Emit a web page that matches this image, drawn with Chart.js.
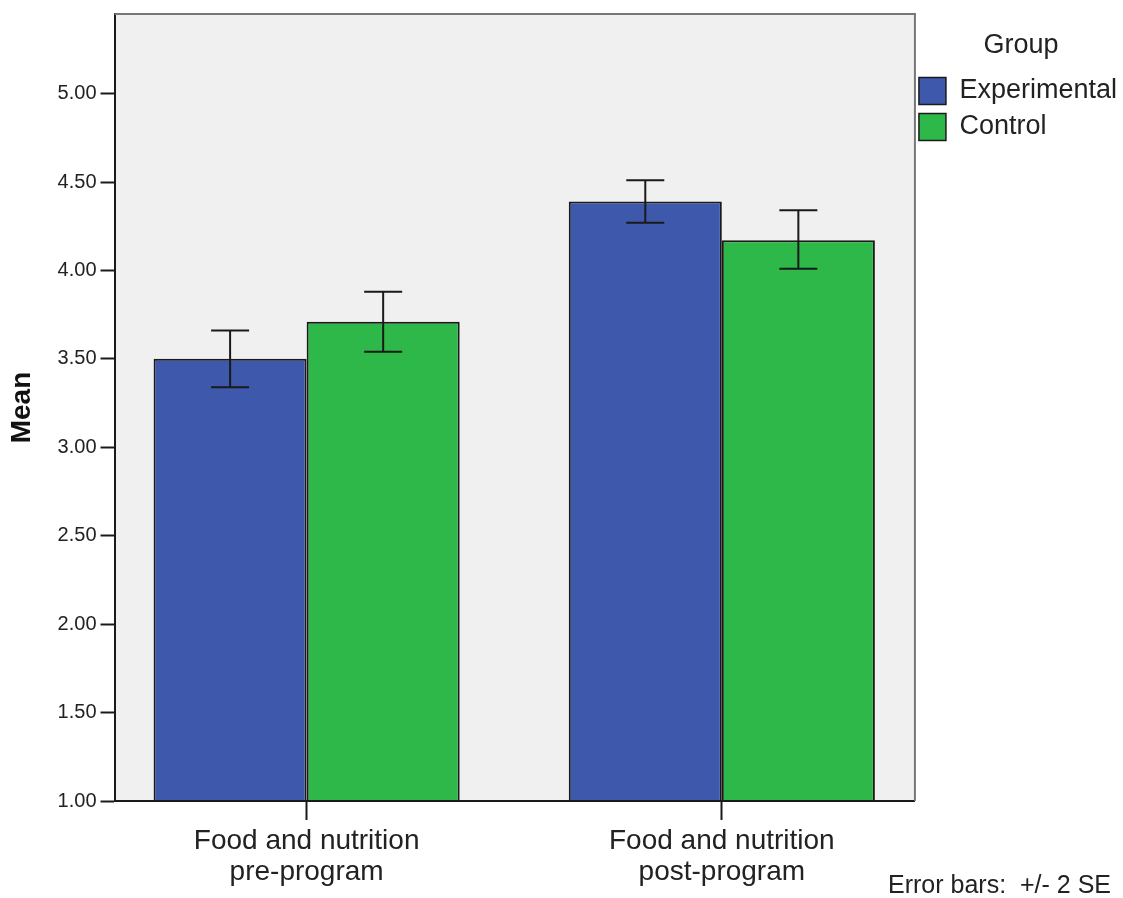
<!DOCTYPE html>
<html>
<head>
<meta charset="utf-8">
<title>Food and nutrition: mean by group</title>
<script src="https://cdn.jsdelivr.net/npm/chart.js@4/dist/chart.umd.min.js"></script>
<style>
  html, body { margin: 0; padding: 0; background: #ffffff; }
  #wrap { width: 1123px; height: 898px; }
</style>
</head>
<body>
<div id="wrap"><canvas id="chart" width="1123" height="898"></canvas></div>
<script>
// Categories (two-line tick labels) and group names
const categories = [
  ['Food and nutrition', 'pre-program'],
  ['Food and nutrition', 'post-program']
];
const groups = ['Experimental', 'Control'];

// Group means
const experimentalMeans = [3.50, 4.39];
const controlMeans = [3.71, 4.17];

// Error bar limits (+/- 2 SE)
const experimentalLow = [3.34, 4.27];
const experimentalHigh = [3.66, 4.51];
const controlLow = [3.54, 4.01];
const controlHigh = [3.88, 4.34];

// Y axis tick labels
const yTicks = [1.00, 1.50, 2.00, 2.50, 3.00, 3.50, 4.00, 4.50, 5.00];

const groupColors = ['#3E58AC', '#2EB84A'];
const FONT = "'Liberation Sans', Arial, sans-serif";
const TEXT = '#222222';

const toPoints = vals => vals.map((v, i) => ({ x: i, y: v }));

// Plot background, grey top/right frame and the footnote
const frame = {
  id: 'frame',
  beforeDraw(chart) {
    const { ctx, chartArea: a } = chart;
    ctx.save();
    ctx.fillStyle = '#F0F0F0';
    ctx.fillRect(a.left, a.top, a.right - a.left, a.bottom - a.top);
    ctx.restore();
  },
  afterDraw(chart) {
    const { ctx, chartArea: a } = chart;
    ctx.save();
    ctx.strokeStyle = '#777777';
    ctx.lineWidth = 2;
    ctx.beginPath();
    ctx.moveTo(a.left, a.top);
    ctx.lineTo(a.right, a.top);
    ctx.lineTo(a.right, a.bottom);
    ctx.stroke();
    ctx.fillStyle = TEXT;
    ctx.font = '25px ' + FONT;
    ctx.textAlign = 'right';
    ctx.textBaseline = 'middle';
    ctx.fillText('Error bars:  +/- 2 SE', chart.width - 12, chart.height - 12);
    ctx.restore();
  }
};

// Whiskers drawn from each bar's own position on the value scale
const errorBars = {
  id: 'errorBars',
  afterDatasetsDraw(chart) {
    const { ctx } = chart;
    const yScale = chart.scales.y;
    ctx.save();
    ctx.strokeStyle = '#1a1a1a';
    ctx.lineWidth = 2;
    chart.data.datasets.forEach((ds, di) => {
      const meta = chart.getDatasetMeta(di);
      meta.data.forEach((bar, i) => {
        const x = bar.x;
        const yLo = yScale.getPixelForValue(ds.errLow[i]);
        const yHi = yScale.getPixelForValue(ds.errHigh[i]);
        const cap = 19;
        ctx.beginPath();
        ctx.moveTo(x, yLo); ctx.lineTo(x, yHi);
        ctx.moveTo(x - cap, yHi); ctx.lineTo(x + cap, yHi);
        ctx.moveTo(x - cap, yLo); ctx.lineTo(x + cap, yLo);
        ctx.stroke();
      });
    });
    ctx.restore();
  }
};

new Chart(document.getElementById('chart'), {
  type: 'bar',
  data: {
    datasets: [
      {
        label: groups[0],
        data: toPoints(experimentalMeans),
        errLow: experimentalLow,
        errHigh: experimentalHigh,
        backgroundColor: groupColors[0],
        borderColor: '#1a1a1a',
        borderWidth: 2
      },
      {
        label: groups[1],
        data: toPoints(controlMeans),
        errLow: controlLow,
        errHigh: controlHigh,
        backgroundColor: groupColors[1],
        borderColor: '#1a1a1a',
        borderWidth: 2
      }
    ]
  },
  options: {
    responsive: false,
    animation: false,
    devicePixelRatio: 1,
    layout: { padding: { top: 14, bottom: 4, left: 0, right: -4 } },
    datasets: {
      bar: { categoryPercentage: 0.7373, barPercentage: 1.0, grouped: true }
    },
    scales: {
      x: {
        type: 'linear',
        offset: false,
        min: -0.4627,
        max: 1.4651,
        afterBuildTicks(scale) {
          scale.ticks = categories.map((_, i) => ({ value: i }));
        },
        ticks: {
          callback: (v) => categories[v],
          color: TEXT,
          font: { family: FONT, size: 28, lineHeight: '31px' },
          padding: 6,
          maxRotation: 0,
          autoSkip: false
        },
        grid: {
          offset: false,
          drawOnChartArea: false,
          drawTicks: true,
          tickLength: 19,
          tickColor: '#1a1a1a',
          tickWidth: 2
        },
        border: { display: true, color: '#1a1a1a', width: 2, z: 1 }
      },
      y: {
        min: 1,
        max: 5.45,
        afterBuildTicks(scale) {
          scale.ticks = yTicks.map(v => ({ value: v }));
        },
        ticks: {
          callback: (v) => Number(v).toFixed(2),
          color: TEXT,
          font: { family: FONT, size: 20, lineHeight: 1.0 },
          padding: 4
        },
        grid: {
          drawOnChartArea: false,
          drawTicks: true,
          tickLength: 14,
          tickColor: '#1a1a1a',
          tickWidth: 2
        },
        border: { display: true, color: '#1a1a1a', width: 2, z: 1 },
        title: {
          display: true,
          text: 'Mean',
          color: '#111111',
          font: { family: FONT, size: 28, weight: 'bold' },
          padding: { top: 5, bottom: 15 }
        }
      }
    },
    plugins: {
      legend: {
        display: true,
        position: 'right',
        align: 'start',
        title: {
          display: true,
          text: 'Group',
          color: TEXT,
          font: { family: FONT, size: 27 },
          padding: { top: 18, bottom: 9 }
        },
        labels: {
          boxWidth: 27,
          boxHeight: 27,
          padding: 4,
          color: TEXT,
          font: { family: FONT, size: 27, lineHeight: '32px' },
          generateLabels(chart) {
            return chart.data.datasets.map((ds, i) => ({
              text: [ds.label],
              fillStyle: ds.backgroundColor,
              strokeStyle: '#1a1a1a',
              lineWidth: 1.5,
              fontColor: TEXT,
              hidden: false,
              datasetIndex: i
            }));
          }
        }
      },
      tooltip: { enabled: false }
    }
  },
  plugins: [frame, errorBars]
});
</script>
</body>
</html>
